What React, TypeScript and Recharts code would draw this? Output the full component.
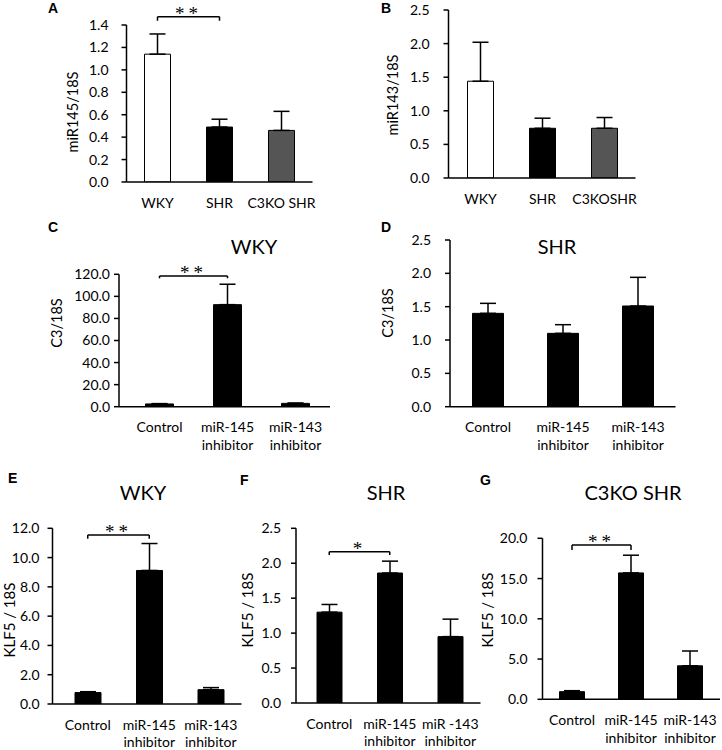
import { Bar, BarChart, Cell, ErrorBar, ReferenceLine, XAxis, YAxis } from "recharts";

// categories
const strainGroups = ["WKY", "SHR", "C3KO SHR"];
const strainGroupsB = ["WKY", "SHR", "C3KOSHR"];
const inhibitorGroups = ["Control", "miR-145\ninhibitor", "miR-143\ninhibitor"];
const inhibitorGroupsF = ["Control", "miR-145\ninhibitor", "miR -143\ninhibitor"];

const strainColors = ["#ffffff", "#000000", "#555555"];
const inhibitorColors = ["#000000", "#000000", "#000000"];

// A: miR145/18S
const mir145Mean = [1.14, 0.49, 0.46];
const mir145Sem = [0.18, 0.07, 0.17];
// B: miR143/18S
const mir143Mean = [1.44, 0.74, 0.74];
const mir143Sem = [0.58, 0.15, 0.16];
// C: C3/18S, WKY
const c3WkyMean = [2.5, 92.5, 3.0];
const c3WkySem = [0.3, 18.5, 0.3];
// D: C3/18S, SHR
const c3ShrMean = [1.4, 1.1, 1.51];
const c3ShrSem = [0.15, 0.13, 0.43];
// E: KLF5/18S, WKY
const klf5WkyMean = [0.78, 9.12, 0.98];
const klf5WkySem = [0.06, 1.84, 0.14];
// F: KLF5/18S, SHR
const klf5ShrMean = [1.3, 1.86, 0.95];
const klf5ShrSem = [0.11, 0.17, 0.25];
// G: KLF5/18S, C3KO SHR
const klf5KoMean = [0.95, 15.7, 4.16];
const klf5KoSem = [0.12, 2.2, 1.84];

const ticksA = [0, 0.2, 0.4, 0.6, 0.8, 1.0, 1.2, 1.4];
const ticksHalf = [0, 0.5, 1.0, 1.5, 2.0, 2.5];
const ticksC = [0, 20, 40, 60, 80, 100, 120];
const ticksE = [0, 2, 4, 6, 8, 10, 12];
const ticksG = [0, 5, 10, 15, 20];

const FONT = "Lato, 'Open Sans', sans-serif";

type Box = {
  left: number;
  top: number;
  width: number;
  height: number;
  axisX: number;
  rangeStart: number;
  rangeEnd: number;
  axisEnd: number;
  yTop: number;
  yBottom: number;
};

type Bracket = { from: number; to: number; y: number; drop: number; stars: string };

function CategoryTick({ x, y, payload }: any) {
  const lines = String(payload.value).split("\n");
  return (
    <text x={x} y={y} textAnchor="middle" fontSize={14} fill="#000" fontFamily={FONT}>
      {lines.map((line, i) => (
        <tspan key={i} x={x} dy={i === 0 ? 25.5 : 17.8}>
          {line}
        </tspan>
      ))}
    </text>
  );
}

function Panel({
  box,
  categories,
  mean,
  sem,
  colors,
  ticks,
  barSize,
  tickGap,
  bracket,
}: {
  box: Box;
  categories: string[];
  mean: number[];
  sem: number[];
  colors: string[];
  ticks: number[];
  barSize: number;
  tickGap: number;
  bracket?: Bracket;
}) {
  const data = categories.map((name, i) => ({
    name,
    value: mean[i],
    err: [0, sem[i]],
    fill: colors[i],
  }));
  const axisStyle = { stroke: "#000", strokeWidth: 1.5 };
  return (
    <div style={{ position: "absolute", left: box.left, top: box.top }}>
      <BarChart
        width={box.width}
        height={box.height}
        data={data}
        margin={{
          top: box.yTop - box.top,
          right: box.left + box.width - box.axisEnd,
          bottom: 0,
          left: 0,
        }}
      >
        <XAxis
          dataKey="name"
          type="category"
          height={box.top + box.height - box.yBottom}
          padding={{ left: box.rangeStart - box.axisX, right: box.axisEnd - box.rangeEnd }}
          tickLine={false}
          tickSize={0}
          tickMargin={0}
          interval={0}
          axisLine={axisStyle}
          tick={<CategoryTick />}
        />
        <YAxis
          width={box.axisX - box.left}
          domain={[0, ticks[ticks.length - 1]]}
          ticks={ticks}
          interval={0}
          allowDataOverflow
          tickFormatter={(v: number) => v.toFixed(1)}
          tick={{ fill: "#000", fontSize: 14, fontFamily: FONT }}
          tickSize={5}
          tickMargin={tickGap}
          axisLine={axisStyle}
          tickLine={axisStyle}
        />
        <Bar dataKey="value" barSize={barSize} stroke="#000" strokeWidth={1} isAnimationActive={false}>
          {data.map((d) => (
            <Cell key={d.name} fill={d.fill} />
          ))}
          <ErrorBar dataKey="err" width={8} stroke="#000" strokeWidth={1.5} isAnimationActive={false} />
        </Bar>
        {bracket ? (
          <ReferenceLine
            segment={[
              { x: categories[bracket.from], y: bracket.y },
              { x: categories[bracket.to], y: bracket.y },
            ]}
            stroke="#000"
            strokeWidth={1.5}
            ifOverflow="visible"
            label={{
              value: bracket.stars,
              position: "top",
              offset: -3,
              fill: "#000",
              fontSize: 19,
              fontFamily: "'Liberation Serif', serif",
              letterSpacing: 4,
            }}
          />
        ) : null}
        {bracket ? (
          <ReferenceLine
            segment={[
              { x: categories[bracket.from], y: bracket.y },
              { x: categories[bracket.from], y: bracket.drop },
            ]}
            stroke="#000"
            strokeWidth={1.5}
            ifOverflow="visible"
          />
        ) : null}
        {bracket ? (
          <ReferenceLine
            segment={[
              { x: categories[bracket.to], y: bracket.y },
              { x: categories[bracket.to], y: bracket.drop },
            ]}
            stroke="#000"
            strokeWidth={1.5}
            ifOverflow="visible"
          />
        ) : null}
      </BarChart>
    </div>
  );
}

function YLabel({ x, y, text, size = 14.5 }: { x: number; y: number; text: string; size?: number }) {
  return (
    <div
      style={{
        position: "absolute",
        left: x,
        top: y,
        transform: "translate(-50%, -50%) rotate(-90deg)",
        whiteSpace: "nowrap",
        fontSize: size,
        lineHeight: 1,
        fontFamily: FONT,
      }}
    >
      {text}
    </div>
  );
}

function Title({ x, y, text }: { x: number; y: number; text: string }) {
  return (
    <div
      style={{
        position: "absolute",
        left: x,
        top: y,
        transform: "translate(-50%, -50%)",
        whiteSpace: "nowrap",
        fontSize: 20,
        lineHeight: 1,
        fontFamily: FONT,
      }}
    >
      {text}
    </div>
  );
}

function Letter({ x, y, text }: { x: number; y: number; text: string }) {
  return (
    <div
      style={{
        position: "absolute",
        left: x,
        top: y,
        fontSize: 14,
        lineHeight: 1,
        fontWeight: 700,
        fontFamily: "'Liberation Sans', Arial, sans-serif",
      }}
    >
      {text}
    </div>
  );
}

export default function App() {
  return (
    <div
      style={{
        position: "relative",
        width: 722,
        height: 750,
        background: "#fff",
        overflow: "hidden",
        fontFamily: FONT,
        color: "#000",
      }}
    >
      <style>{`body{margin:0}`}</style>

      <Panel
        box={{ left: 0, top: 0, width: 361, height: 230, axisX: 126.5, rangeStart: 126.5, rangeEnd: 312.5, axisEnd: 312.5, yTop: 25, yBottom: 182 }}
        categories={strainGroups}
        mean={mir145Mean}
        sem={mir145Sem}
        colors={strainColors}
        ticks={ticksA}
        barSize={26}
        tickGap={13}
        bracket={{ from: 0, to: 1, y: 1.474, drop: 1.438, stars: "**" }}
      />
      <Panel
        box={{ left: 361, top: 0, width: 361, height: 230, axisX: 448.5, rangeStart: 449.5, rangeEnd: 635.5, axisEnd: 635.5, yTop: 10, yBottom: 178 }}
        categories={strainGroupsB}
        mean={mir143Mean}
        sem={mir143Sem}
        colors={strainColors}
        ticks={ticksHalf}
        barSize={26}
        tickGap={14}
      />
      <Panel
        box={{ left: 0, top: 230, width: 361, height: 230, axisX: 119, rangeStart: 125.5, rangeEnd: 329.5, axisEnd: 330, yTop: 274.3, yBottom: 406.7 }}
        categories={inhibitorGroups}
        mean={c3WkyMean}
        sem={c3WkySem}
        colors={inhibitorColors}
        ticks={ticksC}
        barSize={28}
        tickGap={4}
        bracket={{ from: 0, to: 1, y: 118.5, drop: 116.4, stars: "**" }}
      />
      <Panel
        box={{ left: 361, top: 230, width: 361, height: 230, axisX: 450, rangeStart: 450.5, rangeEnd: 675.5, axisEnd: 675.5, yTop: 240, yBottom: 406.7 }}
        categories={inhibitorGroups}
        mean={c3ShrMean}
        sem={c3ShrSem}
        colors={inhibitorColors}
        ticks={ticksHalf}
        barSize={31}
        tickGap={14}
      />
      <Panel
        box={{ left: 0, top: 460, width: 245, height: 290, axisX: 52.5, rangeStart: 57, rangeEnd: 241.5, axisEnd: 241.5, yTop: 528.3, yBottom: 704 }}
        categories={inhibitorGroups}
        mean={klf5WkyMean}
        sem={klf5WkySem}
        colors={inhibitorColors}
        ticks={ticksE}
        barSize={26}
        tickGap={8}
        bracket={{ from: 0, to: 1, y: 11.55, drop: 11.28, stars: "**" }}
      />
      <Panel
        box={{ left: 240, top: 460, width: 242, height: 290, axisX: 296, rangeStart: 299, rangeEnd: 480.5, axisEnd: 480.5, yTop: 528.3, yBottom: 703 }}
        categories={inhibitorGroupsF}
        mean={klf5ShrMean}
        sem={klf5ShrSem}
        colors={inhibitorColors}
        ticks={ticksHalf}
        barSize={25}
        tickGap={10}
        bracket={{ from: 0, to: 1, y: 2.164, drop: 2.117, stars: "*" }}
      />
      <Panel
        box={{ left: 480, top: 460, width: 242, height: 290, axisX: 542.5, rangeStart: 542.5, rangeEnd: 719.5, axisEnd: 720, yTop: 538.3, yBottom: 699.3 }}
        categories={inhibitorGroups}
        mean={klf5KoMean}
        sem={klf5KoSem}
        colors={inhibitorColors}
        ticks={ticksG}
        barSize={25}
        tickGap={10}
        bracket={{ from: 0, to: 1, y: 19.17, drop: 18.55, stars: "**" }}
      />

      <YLabel x={73} y={112} text="miR145/18S" />
      <YLabel x={393} y={95} text="miR143/18S" />
      <YLabel x={57} y={323} text="C3/18S" />
      <YLabel x={388} y={313} text="C3/18S" />
      <YLabel x={9} y={620} text="KLF5 / 18S" size={15} />
      <YLabel x={247} y={610} text="KLF5 / 18S" size={15} />
      <YLabel x={487} y={610} text="KLF5 / 18S" size={15} />

      <Title x={254} y={246} text="WKY" />
      <Title x={557} y={246} text="SHR" />
      <Title x={143} y={492} text="WKY" />
      <Title x={386} y={492} text="SHR" />
      <Title x={633} y={492} text="C3KO SHR" />

      <Letter x={48} y={1} text="A" />
      <Letter x={381} y={1} text="B" />
      <Letter x={48} y={220} text="C" />
      <Letter x={381} y={220} text="D" />
      <Letter x={8} y={471} text="E" />
      <Letter x={240} y={473} text="F" />
      <Letter x={480} y={473} text="G" />
    </div>
  );
}
